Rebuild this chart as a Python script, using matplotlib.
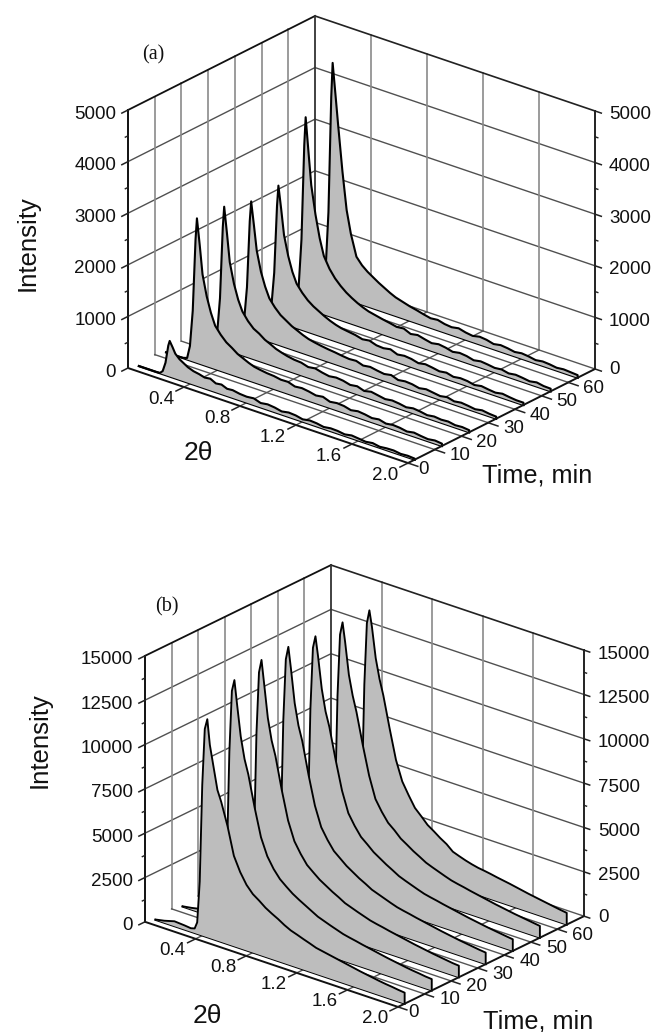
import matplotlib
matplotlib.use('Agg')
import numpy as np
import matplotlib.pyplot as plt
from mpl_toolkits.mplot3d import proj3d
from mpl_toolkits.mplot3d.art3d import Poly3DCollection

plt.rcParams['font.family']=['Liberation Sans','DejaVu Sans']

W=651
H=1032

# 2theta grids
theta_a=[0.03,0.10,0.15,0.18,0.20,0.22,0.24,0.25,0.27,0.29,0.32,0.35,0.38,0.42,0.46,0.50,0.54,0.58,0.62,0.66,0.70,0.75,0.80,0.85,0.90,0.95,1.00,1.05,1.10,1.15,1.20,1.25,1.30,1.35,1.40,1.45,1.50,1.55,1.60,1.65,1.70,1.75,1.80,1.85,1.90,1.95,2.00]
theta_b=[0.03,0.10,0.18,0.26,0.31,0.34,0.36,0.38,0.40,0.42,0.44,0.46,0.49,0.52,0.55,0.60,0.65,0.70,0.75,0.80,0.85,0.90,0.95,1.0,1.05,1.1,1.15,1.2,1.25,1.3,1.35,1.4,1.45,1.5,1.55,1.6,1.65,1.7,1.75,1.8,1.85,1.9,1.95,2.0]

# time of each scan
times=[2.5,12.7,22.9,33,43.2,53.4,63.5]

# panel (a) intensities, front scan first
a1=[0,0,0,5,60,240,590,690,590,480,400,350,300,260,240,210,225,170,185,140,150,125,115,130,85,105,90,60,85,75,45,70,60,35,55,50,30,55,40,25,45,20,35,40,20,30,20]
a2=[0,0,5,30,280,980,2380,2800,2300,1750,1350,1060,840,700,590,520,440,390,340,300,280,260,250,225,230,185,200,180,150,170,120,140,130,95,120,105,80,100,65,85,75,50,75,55,40,60,45]
a3=[0,0,5,30,270,960,2350,2760,2260,1720,1330,1050,850,700,590,530,450,400,345,310,280,255,245,205,225,190,165,185,170,135,155,110,140,115,90,110,95,70,95,80,55,75,60,70,45,55,40]
a4=[0,0,5,25,260,910,2210,2600,2150,1680,1300,1040,840,700,590,520,450,400,350,310,285,260,240,225,205,190,200,155,175,150,130,155,105,125,115,85,110,90,70,95,60,80,65,45,70,50,40]
a5=[0,0,5,30,265,925,2240,2640,2200,1720,1340,1060,860,720,610,530,470,410,360,320,290,270,250,215,235,190,180,205,150,170,155,120,145,125,100,120,85,105,95,65,90,70,55,80,60,45,45]
a6=[0,0,5,35,370,1300,3150,3700,3050,2420,1880,1450,1130,920,770,660,570,500,440,390,350,320,290,265,235,250,190,215,180,150,175,155,120,145,130,95,120,105,85,100,70,90,75,55,80,55,50]
a7=[0,0,5,45,450,1570,3820,4490,3900,3300,2450,1730,1300,890,760,670,600,530,470,410,360,320,280,250,215,185,200,165,150,175,140,120,150,135,100,125,110,85,105,90,65,85,75,55,70,60,50]

# panel (b) intensities, front scan first
b1=[20,120,280,240,200,260,650,3000,8500,11700,12300,10900,9700,8500,7900,6650,5100,4300,3700,3300,3050,2770,2560,2370,2150,1970,1850,1720,1600,1470,1400,1330,1260,1190,1120,1050,980,920,860,800,750,710,660,620]
b2=[20,100,220,200,170,220,600,3400,9600,13100,13760,12500,10700,9500,8700,6950,5400,4450,3850,3400,3100,2820,2600,2400,2200,2000,1870,1740,1620,1500,1420,1350,1270,1200,1130,1060,990,930,870,810,760,720,670,640]
b3=[20,90,180,170,150,190,560,3500,9900,13400,14150,12900,11000,9800,9000,7200,5600,4550,3950,3450,3150,2860,2640,2420,2230,2020,1890,1760,1640,1520,1440,1370,1290,1220,1150,1080,1010,950,890,830,780,730,680,650]
b4=[20,80,150,140,130,170,540,3500,9900,13400,14150,13000,11100,9900,9100,7300,5700,4600,4000,3500,3200,2900,2670,2440,2250,2040,1910,1780,1650,1530,1450,1380,1300,1230,1160,1090,1020,960,900,840,790,740,690,650]
b5=[20,70,130,120,110,150,510,3450,9800,13300,14000,12950,11150,9950,9150,7400,5800,4650,4050,3550,3250,2930,2700,2470,2270,2060,1920,1790,1660,1540,1460,1390,1310,1240,1170,1100,1030,970,910,850,800,750,700,655]
b6=[20,60,110,100,100,140,490,3450,9800,13300,14040,13000,11200,10100,9250,7500,5900,4700,4100,3600,3300,2950,2720,2480,2280,2070,1930,1800,1670,1550,1470,1400,1320,1250,1180,1110,1040,980,920,860,810,760,710,660]
b7=[20,60,100,90,90,130,470,3400,9700,13200,13980,13100,11400,10300,9450,7700,6050,4950,4300,3700,3350,2980,2740,2480,2260,1950,1820,1700,1600,1520,1470,1410,1340,1280,1220,1150,1080,1010,950,890,830,770,710,660]

theta_ticks=[0.4,0.8,1.2,1.6,2.0]
time_ticks=[0,10,20,30,40,50,60]
z_ticks_a=[0,1000,2000,3000,4000,5000]
z_minor_a=[500,1500,2500,3500,4500]
z_ticks_b=[0,2500,5000,7500,10000,12500,15000]
z_minor_b=[1250,3750,6250,8750,11250,13750]

TMAX=70
GRAY='#bdbdbd'

fig=plt.figure(figsize=(W/100,H/100),dpi=100)


def panel(origin,U,V,hgt,elev,azim,theta,curves,zt,zm,base_lw,curve_lw):
    zmax=zt[-1]
    # box sizes from the pixel lengths of the three axes
    a=np.radians(-azim)
    e=np.radians(elev)
    L=np.array([U[0]/np.sin(a),V[0]/np.cos(a),hgt/np.cos(e)])
    S=np.linalg.norm(L)/1.0301
    cx=origin[0]+U[0]/2+V[0]/2
    cy=origin[1]+U[1]/2+V[1]/2-hgt/2
    left=cx-0.5135*S
    bottom=H-cy-0.5135*S
    ax=fig.add_axes([left/W,bottom/H,S/W,S/H],projection='3d',computed_zorder=False)
    ax.set_proj_type('ortho')
    ax.view_init(elev=elev,azim=azim)
    ax.set_box_aspect(L)
    ax.set_xlim(0,2,view_margin=0)
    ax.set_ylim(0,TMAX,view_margin=0)
    ax.set_zlim(0,zmax,view_margin=0)
    ax.set_axis_off()
    ax.patch.set_alpha(0)
    M=ax.get_proj()

    def text(x,y,z,s,dx,dy,ha='center'):
        px,py,_=proj3d.proj_transform(x,y,z,M)
        ax.annotate(s,xy=(px,py),xytext=(dx,dy),textcoords='offset pixels',ha=ha,va='center',fontsize=13.5,color='#111111',annotation_clip=False,zorder=60)

    # walls
    for z in zt[1:-1]:
        ax.plot([0,0],[0,TMAX],[z,z],color='#505050',lw=1.0,zorder=1)
        ax.plot([0,2],[TMAX,TMAX],[z,z],color='#505050',lw=1.0,zorder=1)
    for t in time_ticks[1:]:
        ax.plot([0,0],[t,t],[0,zmax],color='#8a8a8a',lw=1.2,zorder=1)
    for th in theta_ticks[:-1]:
        ax.plot([th,th],[TMAX,TMAX],[0,zmax],color='#8a8a8a',lw=1.2,zorder=1)
    ax.plot([0,0],[0,TMAX],[zmax,zmax],color='#111111',lw=1.3,zorder=2)
    ax.plot([0,2],[TMAX,TMAX],[zmax,zmax],color='#222222',lw=1.2,zorder=2)
    ax.plot([0,0],[TMAX,TMAX],[0,zmax],color='#333333',lw=1.3,zorder=2)
    ax.plot([0,0],[0,0],[0,zmax],color='#111111',lw=1.4,zorder=3)
    ax.plot([2,2],[TMAX,TMAX],[0,zmax],color='#222222',lw=1.4,zorder=3)
    ax.plot([0,0],[TMAX,TMAX],[0,0],color='#555555',lw=1.0,zorder=2)

    # floor
    for t in time_ticks[1:]:
        ax.plot([0,2],[t,t],[0,0],color='#555555',lw=1.0,zorder=3)
    for th in theta_ticks[:-1]:
        ax.plot([th,th],[0,TMAX],[0,0],color='#555555',lw=1.0,zorder=3)
    ax.plot([0,2],[TMAX,TMAX],[0,0],color='#555555',lw=1.0,zorder=3)
    ax.plot([0,2],[0,0],[0,0],color='#111111',lw=1.4,zorder=40)
    ax.plot([2,2],[0,TMAX],[0,0],color='#111111',lw=1.4,zorder=40)

    # scans, back to front
    for i in range(len(curves)-1,-1,-1):
        t=times[i]
        zo=30-3*i
        th=np.array(theta)
        vals=np.array(curves[i])
        ys=np.full(len(th),t)
        ax.plot([th[0],2],[t,t],[0,0],color='black',lw=base_lw,zorder=zo)
        verts=[list(zip(th,ys,vals))+[(2,t,0),(th[0],t,0)]]
        ax.add_collection3d(Poly3DCollection(verts,facecolor=GRAY,edgecolor='none',zorder=zo+1),autolim=False)
        ax.plot(np.append(th,2),np.append(ys,t),np.append(vals,0),color='black',lw=curve_lw,zorder=zo+2)

    # ticks and tick labels
    for z in zt:
        ax.plot([0,0],[-2.3,0],[z,z],color='#222222',lw=1.1,zorder=41)
        ax.plot([2,2.045],[TMAX,TMAX],[z,z],color='#222222',lw=1.1,zorder=41)
        text(0,0,z,str(z),-12,-4,ha='right')
        text(2,TMAX,z,str(z),14,-4 if z else -1,ha='left')
    for z in zm:
        ax.plot([0,0],[-1,0],[z,z],color='#222222',lw=1.0,zorder=41)
        ax.plot([2,2.02],[TMAX,TMAX],[z,z],color='#222222',lw=1.0,zorder=41)
    for th in theta_ticks:
        ax.plot([th,th],[-3,0],[0,0],color='#222222',lw=1.1,zorder=41)
        text(th,0,0,'%.1f'%th,-23,-12)
    for t in time_ticks:
        ax.plot([2,2.07],[t,t],[0,0],color='#222222',lw=1.1,zorder=41)
        text(2,t,0,str(t),15 if t else 10,-6,ha='left')
    return ax


panel((128,368),(280,95),(187,-94),258,24.4,-50.6,theta_a,[a1,a2,a3,a4,a5,a6,a7],z_ticks_a,z_minor_a,1.6,1.5)
panel((145,923),(253,83),(186,-91),266,23.9,-50.3,theta_b,[b1,b2,b3,b4,b5,b6,b7],z_ticks_b,z_minor_b,1.4,1.35)


def label(x,y,s,**kw):
    fig.text(x/W,1-y/H,s,ha='center',va='center',color='#111111',**kw)


label(28,243,'Intensity',fontsize=18.5,rotation=90)
label(198,453,'2θ',fontsize=19)
label(537,476,'Time, min',fontsize=18.2)
label(153,55,'(a)',fontsize=14.5,family='Liberation Serif')
label(40,740,'Intensity',fontsize=18.5,rotation=90)
label(207,1016,'2θ',fontsize=19)
label(538,1021,'Time, min',fontsize=18.2)
label(167,607,'(b)',fontsize=14.5,family='Liberation Serif')

fig.savefig('out.png',dpi=100)
